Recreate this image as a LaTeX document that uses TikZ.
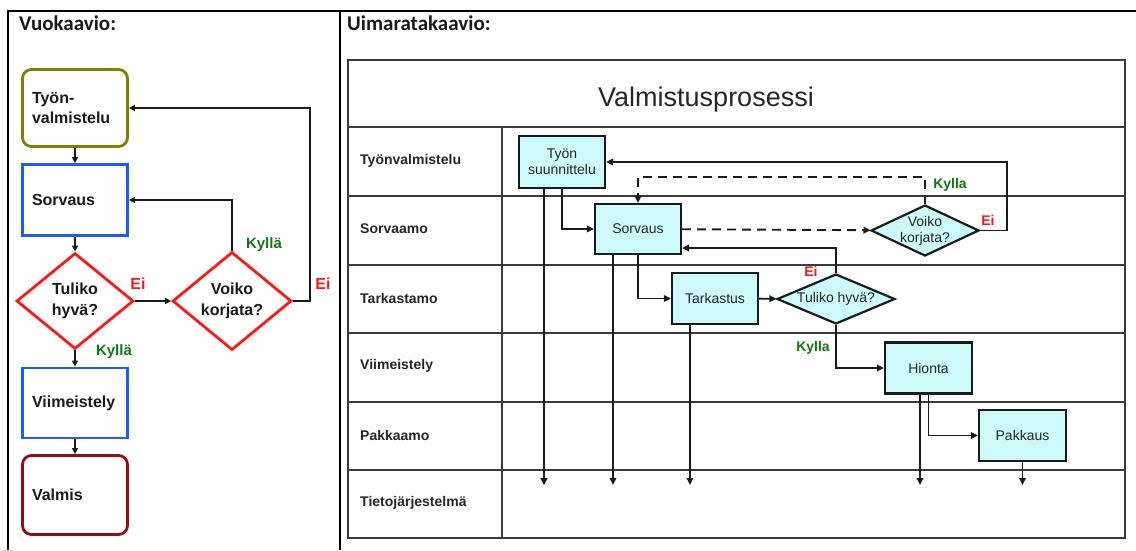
\documentclass[tikz,border=0pt]{standalone}
\usepackage{fontspec}
\setmainfont{Liberation Sans}
\newfontfamily\headfont{Carlito}
\usepackage{tikz}
\usepackage{xcolor}
\usetikzlibrary{arrows.meta,positioning,shapes.geometric,calc}
\definecolor{ink}{HTML}{1A1A1A}
\definecolor{laneink}{HTML}{262626}
\definecolor{laneline}{HTML}{3A3A3A}
\definecolor{olivebd}{HTML}{7F7F00}
\definecolor{bluebd}{HTML}{1A5CFF}
\definecolor{redbd}{HTML}{FF1A1A}
\definecolor{winebd}{HTML}{960A14}
\definecolor{yesgreen}{HTML}{107A10}
\definecolor{nored}{HTML}{F21C1C}
\definecolor{lanecyan}{HTML}{CCFAFA}
\tikzset{
  frame/.style={draw=black,line width=2.8pt},
  heading/.style={font=\headfont\fontsize{21}{24}\selectfont\bfseries,
                  text=ink,inner sep=0pt},
  flowbox/.style={draw=bluebd,line width=2.8pt,minimum width=105pt,
                  text width=86pt,inner sep=0pt,align=left,text=ink,
                  font=\fontsize{16}{20}\selectfont\bfseries},
  startbox/.style={flowbox,draw=olivebd,rounded corners=9pt},
  endbox/.style={flowbox,draw=winebd,rounded corners=9pt},
  flowdia/.style={diamond,draw=redbd,line width=2.8pt,inner sep=0pt,
                  align=center,text=ink,
                  font=\fontsize{16}{21}\selectfont\bfseries},
  yeslbl/.style={text=yesgreen,inner sep=0pt,
                 font=\fontsize{15}{17}\selectfont\bfseries},
  nolbl/.style={text=nored,inner sep=0pt,
                font=\fontsize{16}{18}\selectfont\bfseries},
  flowarr/.style={-{Triangle[length=6pt,width=6pt]},line width=2pt,
                  draw=ink},
  lanegrid/.style={draw=laneline,line width=2pt},
  lanehead/.style={anchor=west,inner sep=0pt,text=laneink,
                   font=\fontsize{14}{16}\selectfont\bfseries},
  lanetext/.style={text=laneink,align=center,
                   font=\fontsize{14}{16}\selectfont},
  lanebox/.style={lanetext,draw=ink,fill=lanecyan,line width=2.2pt,
                  minimum width=87pt,minimum height=51pt,inner sep=0pt},
  lanedia/.style={diamond,draw=ink,fill=lanecyan,line width=2.2pt,
                  inner sep=0pt},
  yessmall/.style={text=yesgreen,inner sep=0pt,
                   font=\fontsize{14}{16}\selectfont\bfseries},
  nosmall/.style={text=nored,inner sep=0pt,
                  font=\fontsize{14}{16}\selectfont\bfseries},
  lanearr/.style={-{Triangle[length=7pt,width=6.5pt]},line width=1.9pt,
                  draw=ink},
  backarr/.style={lanearr,dash pattern=on 9pt off 6pt}
}

\begin{document}
\begin{tikzpicture}[x=1pt,y=-1pt]
    \path[use as bounding box] (0,0) rectangle (1136,550);

    % outer frame and the two panels
    \draw[frame] (8,550) -- (8,11) -- (1136,11);
    \draw[frame] (340,11) -- (340,550);
    \node[heading,anchor=base west] (vuo) at (19,30) {Vuokaavio:};
    \node[heading,anchor=base west] (uima) at (347,30) {Uimaratakaavio:};

    % flowchart
    \node[startbox,minimum height=77pt] (tyo) at (75,108)
      {Työn-\\valmistelu};
    \node[flowbox,minimum height=71pt] (sorv) at (75,200) {Sorvaus};
    \node[flowdia,minimum width=117pt,minimum height=96pt] (tuliko)
      at (75,301) {Tuliko\\hyvä?};
    \node[flowdia,minimum width=119pt,minimum height=97pt] (voiko)
      at (232,301) {Voiko\\korjata?};
    \node[flowbox,minimum height=70pt] (viim) at (75,403) {Viimeistely};
    \node[endbox,minimum height=79pt] (valmis) at (75,495) {Valmis};

    \node[nolbl] (tulikoei) at (138,284) {Ei};
    \node[yeslbl] (tulikoyes) at (114,352) {Kyllä};
    \node[yeslbl] (voikoyes) at (264,245) {Kyllä};
    \node[nolbl] (voikoei) at (323,284) {Ei};

    \draw[flowarr] (tyo) -- (sorv);
    \draw[flowarr] (sorv) -- (tuliko);
    \draw[flowarr] (tuliko) -- (voiko);
    \draw[flowarr] (voiko.north) |- (sorv.east);
    \draw[flowarr] (voiko.east) -- ++(17,0) |- (tyo.east);
    \draw[flowarr] (tuliko) -- (viim);
    \draw[flowarr] (viim) -- (valmis);

    % swimlane table
    \draw[lanegrid] (348,60) rectangle (1125,538);
    \draw[lanegrid] (348,127) -- (1125,127);
    \draw[lanegrid] (348,196) -- (1125,196);
    \draw[lanegrid] (348,265) -- (1125,265);
    \draw[lanegrid] (348,333) -- (1125,333);
    \draw[lanegrid] (348,402) -- (1125,402);
    \draw[lanegrid] (348,470) -- (1125,470);
    \draw[lanegrid] (502,127) -- (502,538);

    \node[text=laneink,font=\fontsize{27}{30}\selectfont] (otsikko)
      at (706,100) {Valmistusprosessi};

    \node[lanehead] (rowtyo) at (360,161) {Työnvalmistelu};
    \node[lanehead] (rowsorv) at (360,229) {Sorvaamo};
    \node[lanehead] (rowtark) at (360,298) {Tarkastamo};
    \node[lanehead] (rowviim) at (360,366) {Viimeistely};
    \node[lanehead] (rowpakk) at (360,435) {Pakkaamo};
    \node[lanehead] (rowtieto) at (360,503) {Tietojärjestelmä};

    \coordinate (tieto1) at (544,485);
    \coordinate (tieto2) at (613,485);
    \coordinate (tieto3) at (690,485);
    \coordinate (tieto4) at (920,485);
    \coordinate (tieto5) at (1022.5,485);

    \draw[lanearr] (544,188) -- (tieto1);
    \draw[lanearr] (613,254) -- (tieto2);
    \draw[lanearr] (690,324) -- (tieto3);
    \draw[lanearr] (920,393) -- (tieto4);

    \node[lanebox,minimum width=86pt,minimum height=52pt] (suun)
      at (562,162) {Työn\\suunnittelu};
    \node[lanebox,minimum width=86pt,minimum height=50pt] (sorvb)
      at (638,229) {Sorvaus};
    \node[lanebox,minimum width=86pt] (tark) at (715,298.5) {Tarkastus};
    \node[lanedia,minimum width=118pt,minimum height=50pt,
          label={[lanetext]center:Tuliko hyvä?}] (tulikob) at (836,299) {};
    \node[lanedia,minimum width=108pt,minimum height=51pt,
          label={[lanetext]center:{Voiko\\korjata?}}] (voikob)
      at (925,230.5) {};
    \node[lanebox] (hionta) at (928.5,368) {Hionta};
    \node[lanebox] (pakk) at (1022.5,435.5) {Pakkaus};

    \node[nosmall] (tulikobei) at (811,271) {Ei};
    \node[yessmall] (tulikobyes) at (813,348) {Kylla};
    \node[yessmall] (voikobyes) at (950,185) {Kylla};
    \node[nosmall] (voikobei) at (988,220) {Ei};

    \draw[lanearr] (suun.south) |- (sorvb.west);
    \draw[lanearr] (sorvb.south) |- (tark.west);
    \draw[lanearr] (tark) -- (tulikob);
    \draw[lanearr] (tulikob.north) |- ([yshift=-19pt]sorvb.east);
    \draw[lanearr] (tulikob.south) |- (hionta.west);
    \draw[lanearr] (hionta.south) |- (pakk.west);
    \draw[lanearr] (pakk.south) -- (tieto5);
    \draw[lanearr] (suun.south -| tieto1) -- (tieto1);
    \draw[backarr] (sorvb) -- (voikob);
    \draw[backarr] (voikob.north) -- ++(0,-27) -| (sorvb.north);
    \draw[lanearr] (voikob.east) -- ++(27,0) |- (suun.east);
  \end{tikzpicture}
\end{document}
